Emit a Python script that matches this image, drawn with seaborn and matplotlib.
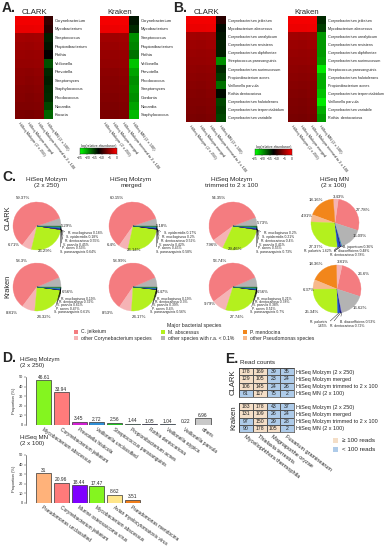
import matplotlib
matplotlib.use("Agg")
import matplotlib.pyplot as plt
import numpy as np
import pandas as pd
import seaborn as sns
from matplotlib.cm import ScalarMappable
from matplotlib.colors import LinearSegmentedColormap, ListedColormap, Normalize
from matplotlib.patches import Patch

# ---------------- data ----------------
RUNS = ["HiSeq Molzym (2 x 250)", "HiSeq Molzym merged",
        "HiSeq Molzym trimmed to 2 x 100", "HiSeq MN (2 x 100)"]

A_CLARK_GENERA = ["Corynebacterium", "Mycobacterium", "Streptococcus", "Propionibacterium",
                  "Rothia", "Veillonella", "Prevotella", "Streptomyces", "Staphylococcus",
                  "Rhodococcus", "Nocardia", "Kocuria"]
A_CLARK_LOG = [[-0.6, -0.6, -0.6, -9.8], [-1.0, -1.0, -0.9, -10.5], [-4.5, -4.6, -4.5, -14.0],
               [-4.8, -4.9, -4.7, -13.5], [-5.0, -5.1, -5.0, -12.5], [-5.2, -5.2, -5.1, -16.5],
               [-5.5, -5.6, -5.4, -14.5], [-5.6, -5.8, -5.6, -14.0], [-5.9, -6.0, -5.8, -14.5],
               [-6.0, -6.2, -6.0, -14.7], [-6.3, -6.3, -6.2, -16.0], [-6.5, -6.6, -6.4, -17.5]]

A_KRAKEN_GENERA = ["Corynebacterium", "Mycobacterium", "Streptococcus", "Propionibacterium",
                   "Rothia", "Veillonella", "Prevotella", "Rhodococcus", "Streptomyces",
                   "Gordonia", "Nocardia", "Staphylococcus"]
A_KRAKEN_LOG = [[-0.5, -0.5, -0.5, -13.5], [-0.9, -0.9, -0.8, -14.5], [-4.6, -4.7, -4.6, -19.5],
                [-4.9, -5.0, -4.8, -19.0], [-5.1, -5.2, -5.1, -18.0], [-5.3, -5.3, -5.2, -22.0],
                [-5.6, -5.7, -5.5, -20.5], [-5.8, -5.9, -5.7, -19.5], [-5.9, -6.0, -5.9, -20.0],
                [-6.1, -6.2, -6.0, -19.5], [-6.3, -6.4, -6.2, -20.5], [-6.5, -6.6, -6.4, -21.5]]

B_CLARK_SPECIES = ["Corynebacterium jeikeium", "Mycobacterium abscessus", "Corynebacterium urealyticum",
                   "Corynebacterium resistens", "Corynebacterium diphtheriae", "Streptococcus parasanguinis",
                   "Corynebacterium aurimucosum", "Propionibacterium acnes", "Veillonella parvula",
                   "Rothia dentocariosa", "Corynebacterium halotolerans",
                   "Corynebacterium terpenotabidum", "Corynebacterium variabile"]
B_CLARK_LOG = [[-0.6, -0.6, -0.6, -10.5], [-1.0, -1.0, -0.9, -13.0], [-4.5, -4.6, -4.5, -13.5],
               [-4.8, -4.9, -4.7, -14.0], [-5.0, -5.1, -5.0, -14.0], [-5.2, -5.2, -5.1, -19.5],
               [-5.4, -5.5, -5.4, -14.5], [-5.6, -5.7, -5.6, -15.5], [-5.8, -5.9, -5.7, -18.0],
               [-6.0, -6.1, -5.9, -13.0], [-6.2, -6.2, -6.1, -16.0], [-6.3, -6.4, -6.2, -15.5],
               [-6.5, -6.6, -6.4, -16.0]]

B_KRAKEN_SPECIES = ["Corynebacterium jeikeium", "Mycobacterium abscessus", "Corynebacterium urealyticum",
                    "Corynebacterium resistens", "Corynebacterium diphtheriae", "Corynebacterium aurimucosum",
                    "Streptococcus parasanguinis", "Corynebacterium halotolerans", "Propionibacterium acnes",
                    "Corynebacterium terpenotabidum", "Veillonella parvula", "Corynebacterium variabile",
                    "Rothia  dentocariosa"]
B_KRAKEN_LOG = [[-0.5, -0.5, -0.5, -14.5], [-0.9, -0.9, -0.8, -15.5], [-4.6, -4.7, -4.6, -20.0],
                [-4.9, -5.0, -4.8, -20.0], [-5.1, -5.2, -5.1, -20.0], [-5.3, -5.3, -5.2, -20.5],
                [-5.5, -5.6, -5.5, -24.0], [-5.7, -5.8, -5.7, -21.0], [-5.9, -6.0, -5.9, -21.0],
                [-6.1, -6.2, -6.0, -22.0], [-6.3, -6.4, -6.2, -24.0], [-6.4, -6.5, -6.3, -21.0],
                [-6.6, -6.7, -6.5, -20.0]]

# panel C
PIE_TITLES = ["HiSeq Molzym\n(2 x 250)", "HiSeq Molzym\nmerged",
              "HiSeq Molzym\ntrimmed to 2 x 100", "HiSeq MN\n(2 x 100)"]
MOLZYM_GROUPS = ["other species with r.a. < 0.1%", "C. jeikeium",
                 "other Corynebacterium species", "M. abscessus"]
CLARK_MOLZYM_MAIN = [[5.29, 59.37, 6.71, 26.29], [5.18, 60.15, 6.4, 26.14], [5.73, 54.35, 7.96, 29.46]]
KRAKEN_MOLZYM_MAIN = [[6.56, 58.3, 8.81, 24.32], [6.47, 58.99, 8.53, 24.17], [6.56, 53.74, 9.79, 27.74]]
CLARK_MOLZYM_MINOR_NAMES = [
    ["R. mucilaginosa", "S. epidermidis", "R. dentocariosa", "V. parvula", "P. acnes", "S. parasanguinis"],
    ["S. epidermidis", "R. mucilaginosa", "R. dentocariosa", "V. parvula", "P. acnes", "S. parasanguinis"],
    ["R. mucilaginosa", "S. epidermidis", "R. dentocariosa", "V. parvula", "P. acnes", "S. parasanguinis"],
]
CLARK_MOLZYM_MINOR = [[0.18, 0.18, 0.55, 0.45, 0.53, 0.64], [0.17, 0.2, 0.52, 0.42, 0.45, 0.58],
                      [0.2, 0.21, 0.4, 0.41, 0.55, 0.73]]
KRAKEN_MOLZYM_MINOR_NAMES = ["R. mucilaginosa", "R. dentocariosa", "V. parvula", "P. acnes", "S. parasanguinis"]
KRAKEN_MOLZYM_MINOR = [[0.19, 0.32, 0.61, 0.47, 0.61], [0.19, 0.3, 0.39, 0.4, 0.56],
                       [0.21, 0.38, 0.38, 0.51, 0.7]]

MN_GROUPS = ["C. jeikeium", "other Corynebacterium species", "P. mendocina",
             "other Pseudomonas species", "M. abscessus", "other species with r.a. < 0.1%"]
CLARK_MN_MAIN = [27.78, 3.43, 18.16, 4.91, 27.37, 15.09]
KRAKEN_MN_MAIN = [26.6, 3.81, 18.36, 6.37, 25.34, 16.62]
CLARK_MN_MINOR_NAMES = ["R. palustris", "R. dentocariosa", "B. diazoefficiens", "B. japonicum"]
CLARK_MN_MINOR = [1.62, 0.78, 0.48, 0.36]
KRAKEN_MN_MINOR_NAMES = ["R. palustris", "R. dentocariosa", "B. diazoefficiens"]
KRAKEN_MN_MINOR = [1.65, 0.72, 0.53]

# panel D
D_MOLZYM_TAXA = ["Mycobacterium abscessus", "Corynebacterium jeikeium", "Prevotella histicola",
                 "Veillonella unclassified", "Streptococcus parasanguinis", "Propionibacterium acnes",
                 "Rothia dentocariosa", "Veillonella atypica", "Veillonella parvula", "others"]
D_MOLZYM_PCT = [46.61, 33.94, 3.45, 2.72, 2.56, 1.44, 1.05, 1.04, 0.22, 6.96]
D_MN_TAXA = ["Pseudomonas unclassified", "Corynebacterium jeikeium", "Murine osteosarcoma virus",
             "Mycobacterium abscessus", "Avian myelocytomatosis virus", "Pseudomonas mendocina"]
D_MN_PCT = [31, 20.96, 18.44, 17.47, 8.62, 3.51]

# panel E
E_FUNGI = ["Myceliophthora thermophila", "Thielavia terrestris", "Magnaporthe oryzae", "Fusarium graminearum"]
E_CLARK_COUNTS = [[178, 169, 39, 35], [129, 105, 23, 24], [106, 145, 24, 26], [61, 117, 75, 2]]
E_KRAKEN_COUNTS = [[183, 178, 43, 37], [131, 109, 26, 24], [97, 150, 29, 28], [90, 178, 105, 2]]

# ---------------- styles / layout ----------------
GROUP_COLORS = {
    "C. jeikeium": "#f47c80",
    "other Corynebacterium species": "#f5b3b5",
    "M. abscessus": "#b4f01e",
    "other species with r.a. < 0.1%": "#b3b3b3",
    "P. mendocina": "#f2861b",
    "other Pseudomonas species": "#f7b98c",
}
MINOR_COLORS = {
    "R. mucilaginosa": "#1a1a1a", "S. epidermidis": "#7b3fa0", "R. dentocariosa": "#101070",
    "V. parvula": "#2060e0", "P. acnes": "#0a8a8a", "S. parasanguinis": "#2a7a3a",
    "R. palustris": "#1f4fd0", "B. diazoefficiens": "#6a6ad0", "B. japonicum": "#20a0a0",
}
D_MOLZYM_COLORS = ["#84f51f", "#ff7b7b", "#d21fd2", "#2f8fd6", "#22c422", "#3a9a7a",
                   "#14147a", "#4f7fb0", "#9a9a9a", "#c8c8c8"]
D_MN_COLORS = ["#ffb27a", "#ff7a7a", "#7f00ff", "#84f51f", "#ffe68a", "#f07d1a"]

# percent label anchors (pie-radius units, relative to each pie centre)
CLARK_MOLZYM_LABEL_AT = [
    [(1.25, 0.02), (-0.58, 1.17), (-0.96, -0.79), (0.33, -1.05)],
    [(1.21, 0.02), (-0.67, 1.17), (-0.88, -0.79), (0.04, -1.0)],
    [(1.25, 0.12), (-0.58, 1.17), (-0.9, -0.8), (0.08, -0.97)],
]
KRAKEN_MOLZYM_LABEL_AT = [
    [(1.29, -0.2), (-0.62, 1.1), (-1.04, -1.1), (0.29, -1.25)],
    [(1.22, -0.2), (-0.54, 1.1), (-1.04, -1.1), (0.25, -1.25)],
    [(1.22, -0.22), (-0.54, 1.1), (-0.95, -0.7), (0.17, -1.25)],
]
CLARK_MN_LABEL_AT = [(1.15, 0.54), (0.17, 1.1), (-0.8, 0.95), (-1.17, 0.29), (-0.8, -0.98), (1.02, -0.55)]
KRAKEN_MN_LABEL_AT = [(1.1, 0.62), (0.25, 1.12), (-0.88, 1.04), (-1.18, -0.04), (-1.06, -0.96), (0.95, -0.8)]

W, H = 390, 550
sns.set_theme(style="white")
plt.rcParams["font.family"] = ["Liberation Sans", "DejaVu Sans"]
plt.rcParams["axes.linewidth"] = 0.4

fig = plt.figure(figsize=(W / 100, H / 100), dpi=100)


def px_axes(x0, y0, x1, y1):
    return fig.add_axes([x0 / W, 1 - y1 / H, (x1 - x0) / W, (y1 - y0) / H])


def fig_text(x, y, s, **kw):
    fig.text(x / W, 1 - y / H, s, **kw)


ab_cmap = LinearSegmentedColormap.from_list("ab", ["#00ff00", "#000000", "#ff0000"])


def draw_heat(box, values, rows, title, label_size):
    ax = px_axes(*box)
    df = pd.DataFrame(values, index=rows, columns=RUNS)
    sns.heatmap(df, ax=ax, cmap=ab_cmap, vmin=-25, vmax=0, cbar=False,
                xticklabels=True, yticklabels=True)
    ax.yaxis.tick_right()
    ax.tick_params(axis="y", length=0, labelsize=label_size, pad=1.5)
    plt.setp(ax.get_yticklabels(), rotation=0)
    ax.tick_params(axis="x", length=0, labelsize=2.8, pad=1.5)
    plt.setp(ax.get_xticklabels(), rotation=-52, ha="left", rotation_mode="anchor")
    ax.set_title(title, fontsize=5.6, pad=1.5)
    return ax


def draw_cbar(box):
    cax = px_axes(*box)
    cb = fig.colorbar(ScalarMappable(Normalize(-25, 0), ab_cmap), cax=cax,
                      orientation="horizontal", ticks=[-25, -20, -15, -10, -5, 0])
    cb.outline.set_linewidth(0.3)
    cax.tick_params(labelsize=2.4, length=1, width=0.3, pad=0.5)
    cax.set_title("log(relative abundance)", fontsize=2.4, pad=1)


# ---------------- panel A / B ----------------
fig_text(2, 1, "A.", fontsize=10, fontweight="bold", va="top")
fig_text(173, 1, "B.", fontsize=10, fontweight="bold", va="top")
draw_heat((15, 16, 53, 119), A_CLARK_LOG, A_CLARK_GENERA, "CLARK", 3.0)
draw_heat((100, 16, 139, 119), A_KRAKEN_LOG, A_KRAKEN_GENERA, "Kraken", 3.0)
draw_heat((186, 16, 226, 122), B_CLARK_LOG, B_CLARK_SPECIES, "CLARK", 2.7)
draw_heat((288, 16, 326, 122), B_KRAKEN_LOG, B_KRAKEN_SPECIES, "Kraken", 2.7)
draw_cbar((80, 148, 117, 154))
draw_cbar((255, 149, 292, 155))


# ---------------- panel C ----------------
def draw_pie(cx, cy, main_vals, main_groups, label_at, minor_vals, minor_names,
             minor_after, start, minor_pos, r=24):
    ax = px_axes(cx - 2 * r, cy - 2 * r, cx + 2 * r, cy + 2 * r)
    vals = list(main_vals[:minor_after]) + list(minor_vals) + list(main_vals[minor_after:])
    names = list(main_groups[:minor_after]) + list(minor_names) + list(main_groups[minor_after:])
    colors = [GROUP_COLORS.get(n, MINOR_COLORS.get(n)) for n in names]
    wedges, _ = ax.pie(vals, colors=colors, startangle=start, counterclock=True, radius=1)
    for w, col in zip(wedges, colors):
        w.set_edgecolor(col)
        w.set_linewidth(0.25)
    ax.set_xlim(-2, 2)
    ax.set_ylim(-2, 2)
    ax.set_aspect("equal")
    ax.axis("off")
    k = 0
    g = 0
    for w, n, v in zip(wedges, names, vals):
        mid = np.deg2rad((w.theta1 + w.theta2) / 2)
        c, s = np.cos(mid), np.sin(mid)
        if n in GROUP_COLORS:
            lx, ly = label_at[g]
            g += 1
            ax.text(lx, ly, f"{v:g}%", fontsize=3.1, ha="center", va="center")
        else:
            lx, ly, lha, sep = minor_pos[k]
            k += 1
            ax.annotate(f"{n}{sep}{v:g}%", xy=(c, s), xytext=(lx, ly), fontsize=2.4,
                        ha=lha, va="center", linespacing=1.1,
                        arrowprops=dict(arrowstyle="-", lw=0.3, color="black",
                                        shrinkA=0, shrinkB=0,
                                        relpos=(0 if lha == "left" else 1, 0.5)))
    return ax


fig_text(2, 170, "C.", fontsize=10, fontweight="bold", va="top")
for x, t in zip([47, 131, 232, 334], PIE_TITLES):
    fig_text(x, 177, t, fontsize=4.6, ha="center", va="top", linespacing=1.25)
fig_text(8, 218, "CLARK", fontsize=5.3, rotation=90, ha="center", va="center")
fig_text(8, 286, "Kraken", fontsize=5.3, rotation=90, ha="center", va="center")

clark_pos = [(1.29 - 0.066 * i, -0.3 - 0.158 * i, "left", " ") for i in range(6)]
kraken_pos = [(0.98 - 0.065 * i, -0.5 - 0.135 * i, "left", " ") for i in range(5)]
for j, cx in enumerate([37, 133, 233]):
    draw_pie(cx, 226, CLARK_MOLZYM_MAIN[j], MOLZYM_GROUPS, CLARK_MOLZYM_LABEL_AT[j],
             CLARK_MOLZYM_MINOR[j], CLARK_MOLZYM_MINOR_NAMES[j], 4, 0, clark_pos)
    draw_pie(cx, 287, KRAKEN_MOLZYM_MAIN[j], MOLZYM_GROUPS, KRAKEN_MOLZYM_LABEL_AT[j],
             KRAKEN_MOLZYM_MINOR[j], KRAKEN_MOLZYM_MINOR_NAMES, 4, 0, kraken_pos)

clark_mn_pos = [(-0.12, -1.17, "right", " "), (-0.2, -1.33, "left", " "),
                (-0.04, -1.17, "left", " "), (0.33, -1.0, "left", " ")]
kraken_mn_pos = [(-0.42, -1.46, "right", "\n"), (-0.3, -1.55, "left", " "), (0.12, -1.36, "left", " ")]
draw_pie(335, 223, CLARK_MN_MAIN, MN_GROUPS, CLARK_MN_LABEL_AT, CLARK_MN_MINOR,
         CLARK_MN_MINOR_NAMES, 5, -18, clark_mn_pos)
draw_pie(337, 289, KRAKEN_MN_MAIN, MN_GROUPS, KRAKEN_MN_LABEL_AT, KRAKEN_MN_MINOR,
         KRAKEN_MN_MINOR_NAMES, 5, -18, kraken_mn_pos)

legend_order = ["C. jeikeium", "other Corynebacterium species", "M. abscessus",
                "other species with r.a. < 0.1%", "P. mendocina", "other Pseudomonas species"]
handles = [Patch(facecolor=GROUP_COLORS[g], edgecolor="none") for g in legend_order]
fig.legend(handles, legend_order, ncol=3, loc="upper center",
           bbox_to_anchor=(194 / W, 1 - 320 / H), frameon=False, fontsize=3.6,
           title="Major bacterial species", title_fontsize=3.8,
           handlelength=0.9, handleheight=0.9, handletextpad=0.5,
           columnspacing=1.8, labelspacing=0.3, borderpad=0.1)


# ---------------- panel D ----------------
def draw_bars(y_top, taxa, pct, colors, title):
    step = 17.7
    x0 = 26
    ax = px_axes(x0, y_top, x0 + (len(taxa) + 0.6) * step, y_top + 48)
    df = pd.DataFrame({"taxon": taxa, "pct": pct})
    sns.barplot(data=df, x="taxon", y="pct", hue="taxon", palette=colors, legend=False,
                width=0.85, edgecolor="#333333", linewidth=0.5, saturation=1, ax=ax)
    for cont in ax.containers:
        ax.bar_label(cont, fontsize=3.5, padding=0.3)
    ax.set_ylim(0, 50)
    ax.set_yticks(range(0, 51, 10))
    ax.set_xlim(-1.0, len(taxa) - 0.4)
    ax.set_xlabel("")
    ax.set_ylabel("Proportion (%)", fontsize=3, labelpad=1.5)
    ax.tick_params(axis="y", labelsize=2.8, length=1.5, width=0.3, pad=0.8, left=True)
    ax.tick_params(axis="x", length=0, labelsize=3.5, pad=1.5)
    plt.setp(ax.get_xticklabels(), rotation=-35, ha="left", rotation_mode="anchor")
    for sp in ["top", "right", "bottom"]:
        ax.spines[sp].set_visible(False)
    ax.spines["left"].set_linewidth(0.4)
    ax.patch.set_alpha(0)
    fig_text(20, y_top - 20, title, fontsize=4.4, va="top", linespacing=1.3)
    return ax


fig_text(2, 351, "D.", fontsize=10, fontweight="bold", va="top")
draw_bars(377, D_MOLZYM_TAXA, D_MOLZYM_PCT, D_MOLZYM_COLORS, "HiSeq Molzym\n(2 x 250)")
draw_bars(455, D_MN_TAXA, D_MN_PCT, D_MN_COLORS, "HiSeq MN\n(2 x 100)")

# ---------------- panel E ----------------
E_COLORS = ListedColormap(["#aecbe9", "#f4dec7"])


def draw_counts(box, counts, label, show_x):
    ax = px_axes(*box)
    df = pd.DataFrame(counts, index=RUNS, columns=E_FUNGI)
    sns.heatmap((df >= 100).astype(int), ax=ax, cmap=E_COLORS, vmin=0, vmax=1, cbar=False,
                annot=df, fmt="d", annot_kws=dict(fontsize=3.7, color="#222222"),
                linewidths=0.4, linecolor="#555555",
                xticklabels=show_x, yticklabels=True)
    for sp in ax.spines.values():
        sp.set_visible(True)
        sp.set_linewidth(0.5)
        sp.set_color("#444444")
    ax.yaxis.tick_right()
    ax.tick_params(axis="y", length=0, labelsize=3.9, pad=1.5)
    plt.setp(ax.get_yticklabels(), rotation=0)
    if show_x:
        ax.tick_params(axis="x", length=0, labelsize=4.0, pad=1.5)
        plt.setp(ax.get_xticklabels(), rotation=-37, ha="left", rotation_mode="anchor")
    ax.set_ylabel(label, fontsize=5.6, labelpad=1.5)
    ax.set_xlabel("")
    return ax


fig_text(225, 352, "E.", fontsize=10, fontweight="bold", va="top")
fig_text(240, 362, "Read counts", fontsize=4.5, va="center")
draw_counts((239, 368, 294, 397), E_CLARK_COUNTS, "CLARK", False)
draw_counts((239, 403, 294, 432), E_KRAKEN_COUNTS, "Kraken", True)
e_handles = [Patch(facecolor="#f4dec7", edgecolor="none"), Patch(facecolor="#aecbe9", edgecolor="none")]
fig.legend(e_handles, ["≥ 100 reads", "< 100 reads"], loc="upper left",
           bbox_to_anchor=(327 / W, 1 - 432 / H), frameon=False, fontsize=4.5,
           handlelength=0.9, handleheight=0.9, handletextpad=0.6, labelspacing=0.5)

fig.savefig("out.png", dpi=100)
